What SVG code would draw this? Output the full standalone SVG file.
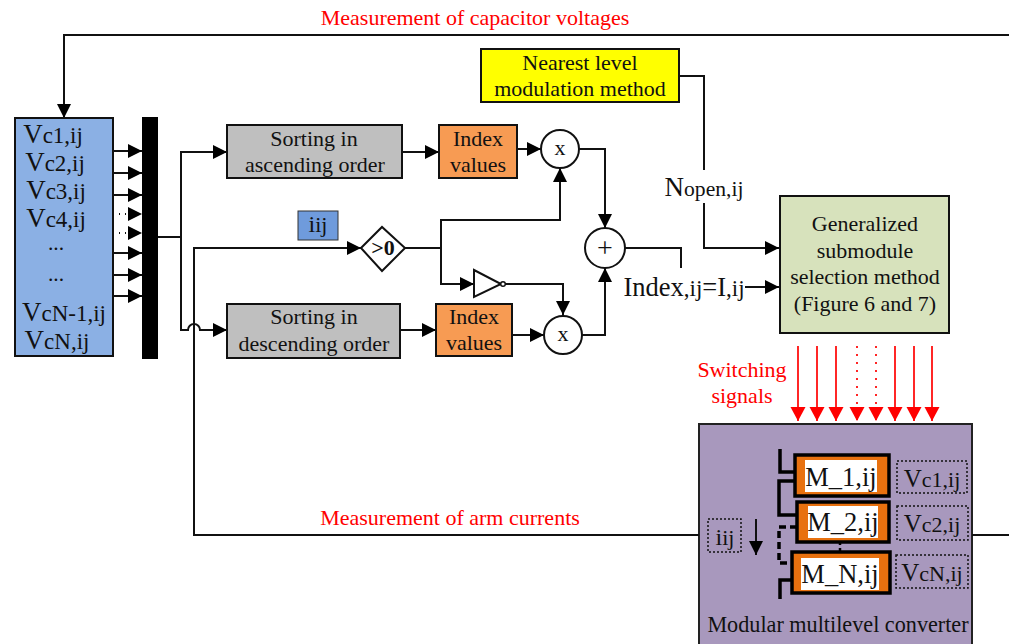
<svg xmlns="http://www.w3.org/2000/svg" width="1009" height="644" viewBox="0 0 1009 644">
<style>
text{font-family:"Liberation Serif","Times New Roman",serif;fill:#111;text-anchor:middle}
.t{font-size:22px}
.v{font-size:27px}
.w{font-size:23px}
.v2{font-size:25px}
.w2{font-size:22px}
.s{font-size:21.5px}
.r{fill:#f00;font-size:22px}
.b{stroke:#111;stroke-width:2}
.l{fill:none;stroke:#111;stroke-width:2}
.a{fill:none;stroke:#111;stroke-width:2;marker-end:url(#ah)}
.ra{fill:none;stroke:#f00;stroke-width:1.7;marker-end:url(#rh)}
.d{fill:none;stroke:#111;stroke-width:1.5;stroke-dasharray:2 2}
.k{fill:none;stroke:#000;stroke-width:3.5}
.m{fill:#e8710f;stroke:#000;stroke-width:3.5}
</style>
<defs>
<marker id="ah" markerUnits="userSpaceOnUse" markerWidth="15" markerHeight="14" refX="14" refY="7" orient="auto"><path d="M0 0L14 7L0 14Z" fill="#000"/></marker>
<marker id="rh" markerUnits="userSpaceOnUse" markerWidth="15" markerHeight="16" refX="14" refY="7.5" orient="auto"><path d="M0 0L14 7.5L0 15Z" fill="#f00"/></marker>
</defs>
<rect x="699" y="424" width="273" height="225" fill="#a898bd" stroke="#222" stroke-width="2"/>
<g id="connectors">
<path class="a" d="M1009 35H64V118"/>
<path class="a" d="M113 151H142"/><path class="a" d="M113 173H142"/><path class="a" d="M113 195H142"/>
<path class="a" d="M113 214H142" stroke-width="1" stroke-dasharray="1 5"/><path class="a" d="M113 233H142" stroke-width="1" stroke-dasharray="1 5"/>
<path class="a" d="M113 253H142"/><path class="a" d="M113 275H142"/><path class="a" d="M113 296H142"/>
<path class="a" d="M158 237H181V152H227"/>
<path class="a" d="M181 237V330H188A6 6 0 0 1 200 330H227"/>
<path class="a" d="M699 535H194V248H361"/>
<path class="l" d="M972 535H1009"/>
<path class="a" d="M402 152H439"/><path class="a" d="M400 330H436"/>
<path class="a" d="M517 149H541"/><path class="a" d="M512 335H544"/>
<path class="a" d="M405 248H441V220H560V168"/>
<path class="a" d="M441 248V284H474"/>
<path class="a" d="M505 284H563V315"/>
<path class="a" d="M579 149H605V228"/>
<path class="a" d="M582 335H605V268"/>
<path class="l" d="M625 248H681V268"/>
<path class="a" d="M745 287H779"/>
<path class="l" d="M679 76H704V170"/>
<path class="a" d="M704 203V248H779"/>
<path class="ra" d="M798 346V421"/><path class="ra" d="M817 346V421"/><path class="ra" d="M836 346V421"/>
<path class="ra" d="M857 346V421" stroke-dasharray="2 6"/><path class="ra" d="M876 346V421" stroke-dasharray="2 6"/>
<path class="ra" d="M895 346V421"/><path class="ra" d="M914 346V421"/><path class="ra" d="M932 346V421"/>
</g>
<g id="sources">
<rect x="15" y="118" width="98" height="238" fill="#8bb0e4" class="b"/>
<text x="53" y="143"><tspan class="v">V</tspan><tspan class="w">c1,ij</tspan></text>
<text x="55" y="171"><tspan class="v">V</tspan><tspan class="w">c2,ij</tspan></text>
<text x="56" y="199"><tspan class="v">V</tspan><tspan class="w">c3,ij</tspan></text>
<text x="56" y="227"><tspan class="v">V</tspan><tspan class="w">c4,ij</tspan></text>
<text x="56" y="250" class="s">...</text>
<text x="56" y="281" class="s">...</text>
<text x="64" y="321"><tspan class="v">V</tspan><tspan class="w">cN-1,ij</tspan></text>
<text x="57" y="349"><tspan class="v">V</tspan><tspan class="w">cN,ij</tspan></text>
</g>
<rect id="bus" x="142" y="117" width="16" height="242" fill="#000"/>
<g id="sort-asc"><rect x="227" y="125" width="175" height="53" fill="#bfbfbf" class="b"/><text class="t" x="314" y="146">Sorting in</text><text class="t" x="315" y="172">ascending order</text></g>
<g id="sort-desc"><rect x="227" y="304" width="173" height="54" fill="#bfbfbf" class="b"/><text class="t" x="314" y="324">Sorting in</text><text class="t" x="314" y="351">descending order</text></g>
<g id="index-top"><rect x="439" y="125" width="78" height="53" fill="#f79b53" class="b"/><text class="t" x="478" y="146">Index</text><text class="t" x="478" y="172">values</text></g>
<g id="index-bottom"><rect x="436" y="304" width="76" height="52" fill="#f79b53" class="b"/><text class="t" x="474" y="324">Index</text><text class="t" x="474" y="350">values</text></g>
<g id="mul-top"><circle cx="560" cy="149" r="19" fill="#fff" class="b"/><text class="t" x="560" y="155">x</text></g>
<g id="mul-bottom"><circle cx="563" cy="335" r="19" fill="#fff" class="b"/><text class="t" x="563" y="341">x</text></g>
<g id="sum"><circle cx="605" cy="248" r="20" fill="#fff" class="b"/><text x="605" y="257" font-size="28">+</text></g>
<g id="compare"><path d="M361 248L382 227L405 248L382 271Z" fill="#fff" class="b"/><text x="383" y="255" font-size="22" font-weight="bold">&gt;0</text></g>
<g id="inverter"><path d="M474 270L501 284L474 297Z" fill="#fff" class="b"/><circle cx="503" cy="284" r="2.3" fill="#fff" stroke="#111" stroke-width="1.5"/></g>
<g id="current-label"><rect x="298" y="211" width="40" height="29" fill="#6f9bdc" stroke="#333"/><text x="318" y="232"><tspan font-size="24">i</tspan><tspan class="w2">ij</tspan></text></g>
<g id="nlm"><rect x="481" y="49" width="198" height="53" fill="#ff0" class="b"/><text class="t" x="580" y="70">Nearest level</text><text class="t" x="580" y="96">modulation method</text></g>
<text x="704" y="196"><tspan font-size="27">N</tspan><tspan font-size="21.6">open,ij</tspan></text>
<text x="684" y="296"><tspan font-size="26.5">Index</tspan><tspan class="w">,ij</tspan><tspan font-size="26.5">=I</tspan><tspan class="w">,ij</tspan></text>
<g id="selection"><rect x="780" y="196" width="169" height="137" fill="#d7e2bc" class="b"/>
<text class="t" x="865" y="231">Generalized</text><text class="t" x="865" y="258">submodule</text><text class="t" x="865" y="284">selection method</text><text class="t" x="865" y="311">(Figure 6 and 7)</text></g>
<text class="r" x="475" y="25">Measurement of capacitor voltages</text>
<text class="r" x="450" y="525">Measurement of arm currents</text>
<text class="r" x="742" y="377">Switching</text>
<text class="r" x="742" y="403">signals</text>
<g id="converter">
<path class="k" d="M780 449V472H795M795 481H779V515H797M792 580H780V599"/>
<path class="k" d="M797 527H779V563H792" stroke-dasharray="7 4"/>
<path d="M840 542V552" fill="none" stroke="#000" stroke-width="2.5" stroke-dasharray="3 3"/>
<g id="m1"><rect x="795" y="455" width="94" height="41" class="m"/><rect x="805" y="460" width="72" height="32" fill="#fff"/><text x="841" y="486" font-size="26.5">M_1,ij</text></g>
<g id="m2"><rect x="797" y="502" width="92" height="40" class="m"/><rect x="808" y="506" width="70" height="32" fill="#fff"/><text x="843" y="531" font-size="26.5">M_2,ij</text></g>
<g id="mn"><rect x="792" y="552" width="98" height="41" class="m"/><rect x="801" y="558" width="78" height="32" fill="#fff"/><text x="840" y="583" font-size="26.5">M_N,ij</text></g>
<rect class="d" x="897" y="461" width="70" height="32"/><text x="932" y="487"><tspan class="v2">V</tspan><tspan class="w2">c1,ij</tspan></text>
<rect class="d" x="897" y="506" width="71" height="34"/><text x="932" y="532"><tspan class="v2">V</tspan><tspan class="w2">c2,ij</tspan></text>
<rect class="d" x="896" y="555" width="72" height="33"/><text x="932" y="581"><tspan class="v2">V</tspan><tspan class="w2">cN,ij</tspan></text>
<rect class="d" x="708" y="519" width="33" height="33"/><text x="725" y="545"><tspan font-size="24">i</tspan><tspan class="w2">ij</tspan></text>
<path class="a" d="M756 519V555"/>
<text x="838" y="632" font-size="22.2">Modular multilevel converter</text>
</g>
</svg>
